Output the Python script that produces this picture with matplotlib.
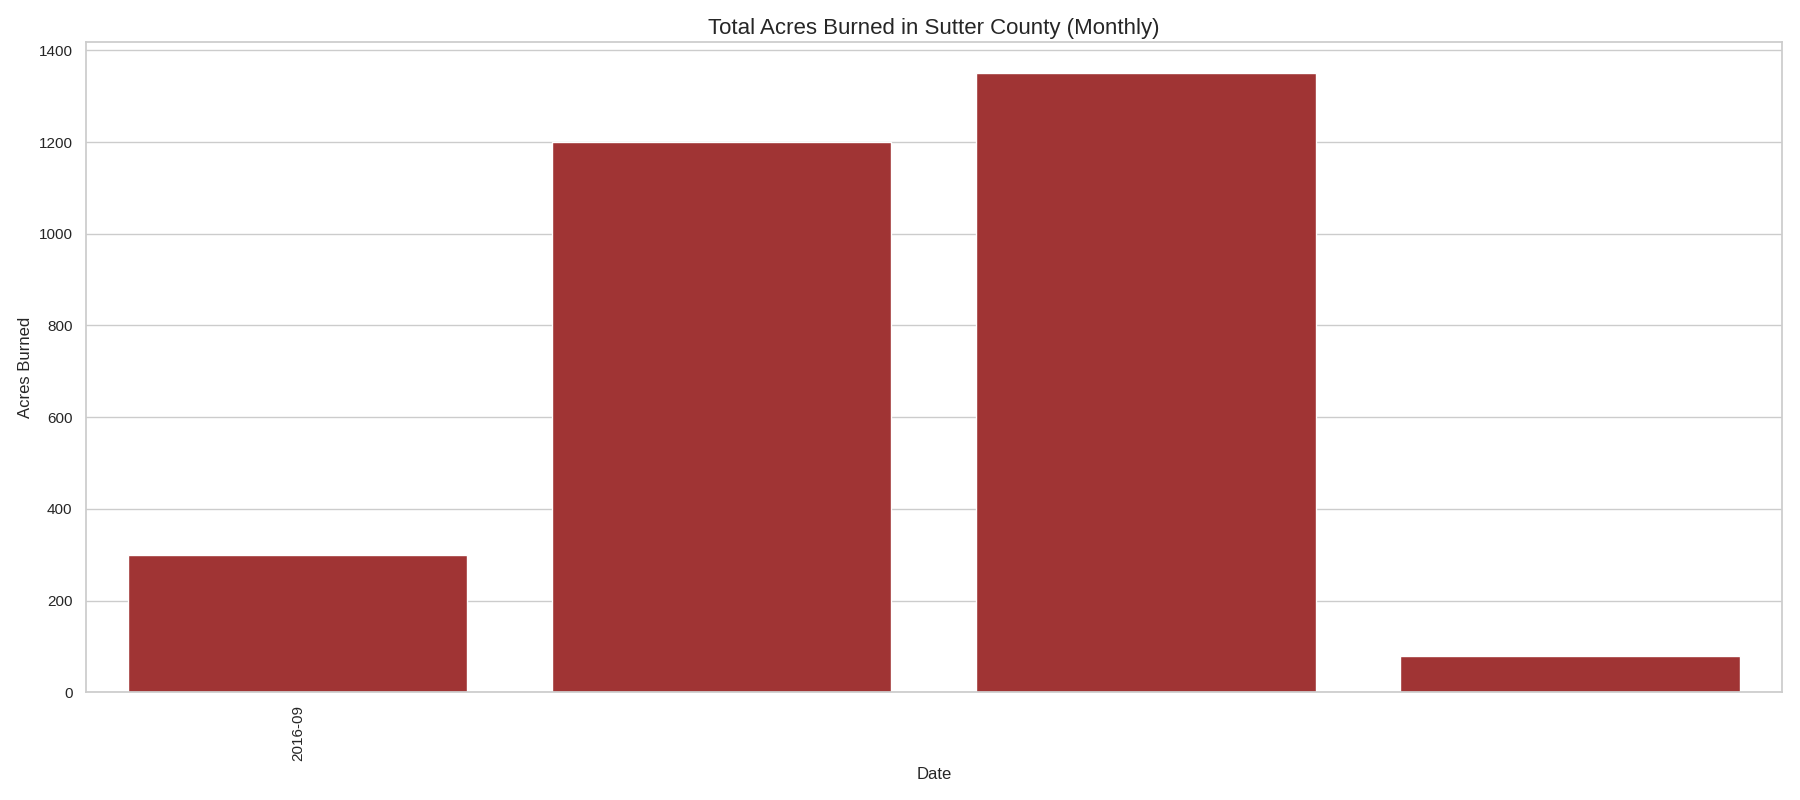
import matplotlib
matplotlib.use('Agg')
import matplotlib.pyplot as plt
import seaborn as sns
import pandas as pd

# monthly acres burned
dates = ['2016-09', '', ' ', '  ']
acres = [300, 1200, 1350, 80]

sns.set_theme(style='whitegrid')
plt.rcParams['font.family'] = ['Liberation Sans', 'DejaVu Sans']

df = pd.DataFrame({'Date': dates, 'Acres Burned': acres})

fig, ax = plt.subplots(figsize=(18, 8), dpi=100)
sns.barplot(data=df, x='Date', y='Acres Burned', color='firebrick', ax=ax)

ax.set_xticks(range(len(dates)))
ax.set_xticklabels(['2016-09', '', '', ''], rotation=90, fontsize=11)
ax.tick_params(axis='y', labelsize=11)
ax.set_xlabel('Date', fontsize=12)
ax.set_ylabel('Acres Burned', fontsize=12)
ax.set_title('Total Acres Burned in Sutter County (Monthly)', fontsize=16)

plt.tight_layout()
plt.savefig('out.png')
